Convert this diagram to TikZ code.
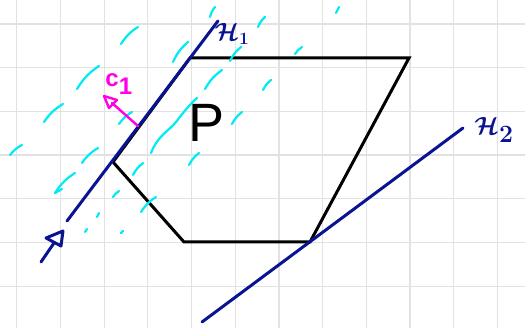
\documentclass[tikz,border=0pt]{standalone}
\usepackage{fontspec}
\usepackage{bm}
\setsansfont{Liberation Sans}
\usetikzlibrary{arrows.meta}
\definecolor{hblue}{RGB}{10,20,145}
\definecolor{hcyan}{RGB}{0,235,245}
\definecolor{hmag}{RGB}{255,0,230}
\definecolor{gridgray}{RGB}{226,226,226}
\begin{document}
\begin{tikzpicture}[x=1pt,y=-1pt,
  gridline/.style={gridgray,line width=1.2pt},
  poly/.style={black,line width=3pt,line join=miter},
  hyper/.style={hblue,line width=3pt,line cap=round,line join=round},
  hatch/.style={hcyan,line width=2.2pt,line cap=round},
  magline/.style={hmag,line width=2.4pt,line cap=round,line join=round},
  lab/.style={inner sep=0pt,anchor=center}]
\fill[white] (0,0) rectangle (525,328);
\useasboundingbox (0,0) rectangle (525,328);
\foreach \i in {0,...,11} \draw[gridline] ({16.7+43.7*\i},0) -- ({16.7+43.7*\i},328);
\foreach \j in {0,...,6} \draw[gridline] (0,{24+43.7*\j}) -- (525,{24+43.7*\j});
% polygon P
\coordinate (v1) at (190,58);
\coordinate (v2) at (409,58);
\coordinate (v3) at (310,242);
\coordinate (v4) at (184,242);
\coordinate (v5) at (113,162);
\draw[poly] (v1) -- (v2) -- (v3) -- (v4) -- (v5) -- cycle;
% hyperplanes
\coordinate (h1a) at (67,221);
\coordinate (h1b) at (218,21);
\coordinate (h2a) at (202,322);
\coordinate (h2b) at (463,128);
\draw[hyper] (h1a) -- (h1b);
\draw[hyper] (h2a) -- (h2b);
% direction arrow (bottom left)
\coordinate (ar1) at (41,262);
\coordinate (ar2) at (54,243);
\coordinate (at1) at (63,231);
\coordinate (at2) at (46,238);
\coordinate (at3) at (61,246);
\draw[hyper] (ar1) -- (ar2);
\draw[hyper] (at1) -- (at2) -- (at3) -- cycle;
% hatching
\foreach \a/\b/\c/\d in {121/44/138/27, 77/89/99/66, 44/122/63/104, 10/155/22/145,
  82/163/98/148, 119/124/132/112, 173/62/188/42, 210/17/215/7, 205/89/222/70,
  230/61/241/47, 232/124/242/112, 189/165/199/153, 258/27/265/17, 336/13/339/7,
  295/54/302/47, 263/90/271/80, 55/193/75/173, 113/197/119/191, 97/217/99/213,
  133/175/143/163, 141/212/156/197, 85/232/87/229, 121/233/123/231}
  \draw[hatch] (\a,\b) to[bend left=12] (\c,\d);
\draw[hatch] (151,153) .. controls (158,135) and (170,130) .. (176,122) .. controls (182,114) and (190,104) .. (197,98);
\draw[hatch] (55,193) -- (62,189);
% normal vector c1
\coordinate (c1a) at (138,126);
\coordinate (c1b) at (112,103);
\coordinate (ct1) at (104,96);
\coordinate (ct2) at (109,108);
\coordinate (ct3) at (117,100);
\draw[magline] (c1a) -- (c1b);
\draw[magline] (ct1) -- (ct2) -- (ct3) -- cycle;
% labels
\node[lab,font=\sffamily\fontsize{54}{54}\selectfont] (P) at (207,123) {P};
\node[lab,hblue,font=\fontsize{26}{26}\selectfont] (H1) at (232,34) {$\bm{\mathcal{H}}_{\bm{1}}$};
\node[lab,hblue,font=\fontsize{34}{34}\selectfont] (H2) at (494,130) {$\bm{\mathcal{H}}_{\bm{2}}$};
\node[lab,hmag,font=\sffamily\bfseries\fontsize{24}{24}\selectfont] (C1) at (119,84) {c$_{\textbf{\textsf{1}}}$};
\end{tikzpicture}
\end{document}
